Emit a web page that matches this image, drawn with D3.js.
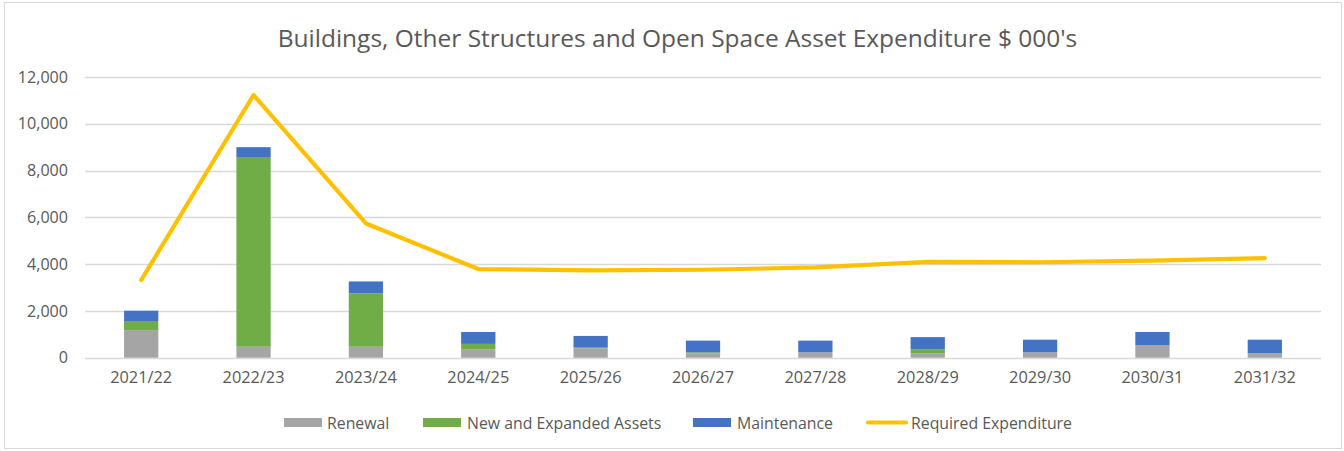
<!DOCTYPE html>
<html>
<head>
<meta charset="utf-8">
<script src="https://cdn.jsdelivr.net/npm/d3@7"></script>
<style>
  html, body { margin: 0; padding: 0; background: #fff; }
  svg { display: block; }
  text { font-family: "Open Sans", sans-serif; fill: #595959; }
</style>
</head>
<body>
<svg id="chart" width="1344" height="451"></svg>
<script>
const categories = ['2021/22','2022/23','2023/24','2024/25','2025/26','2026/27','2027/28','2028/29','2029/30','2030/31','2031/32'];
const renewal     = [1180, 470, 470, 360, 400, 190, 230, 190, 230, 540, 190];
const newExpanded = [360, 8080, 2280, 230, 30, 40, 0, 170, 0, 0, 0];
const maintenance = [470, 450, 510, 510, 500, 500, 500, 520, 540, 560, 580];
const required    = [3320, 11230, 5740, 3790, 3730, 3760, 3860, 4100, 4080, 4150, 4260];
const yTicks = [0, 2000, 4000, 6000, 8000, 10000, 12000];
const seriesNames = ['Renewal', 'New and Expanded Assets', 'Maintenance'];
const lineName = 'Required Expenditure';
const titleText = "Buildings, Other Structures and Open Space Asset Expenditure $ 000's";

const colors = { 'Renewal': '#a5a5a5', 'New and Expanded Assets': '#70ad47', 'Maintenance': '#4472c4', line: '#ffc000' };

const svg = d3.select('#chart');
const W = 1344, H = 451;
const plot = { left: 85, right: 1321, top: 77, bottom: 357.7 };

// helper: size font so the text fits a target width
function fitSize(str, target, weight) {
  const t = svg.append('text').attr('font-size', 100).text(str);
  const w = t.node().getComputedTextLength();
  t.remove();
  return 100 * target / w;
}

// border
svg.append('rect').attr('x', 4.5).attr('y', 2.5).attr('width', 1337).attr('height', 446)
  .attr('fill', '#fff').attr('stroke', '#d9d9d9').attr('stroke-width', 1);

const x = d3.scaleBand().domain(categories).range([plot.left, plot.right]).paddingInner(0.695).paddingOuter(0.3475);
const y = d3.scaleLinear().domain([0, 12000]).range([plot.bottom, plot.top]);

// gridlines
svg.append('g').selectAll('line').data(yTicks).join('line')
  .attr('x1', plot.left).attr('x2', plot.right)
  .attr('y1', d => Math.round(y(d)) + 0.5).attr('y2', d => Math.round(y(d)) + 0.5)
  .attr('stroke', '#d9d9d9').attr('stroke-width', 1.3);

// stacked bars
const rows = categories.map((c, i) => ({ cat: c, 'Renewal': renewal[i], 'New and Expanded Assets': newExpanded[i], 'Maintenance': maintenance[i] }));
const stack = d3.stack().keys(seriesNames)(rows);
svg.append('g').selectAll('g').data(stack).join('g')
  .attr('fill', d => colors[d.key])
  .selectAll('rect').data(d => d).join('rect')
  .attr('x', d => x(d.data.cat))
  .attr('width', x.bandwidth())
  .attr('y', d => y(d[1]))
  .attr('height', d => Math.max(0, y(d[0]) - y(d[1])));

// line
const line = d3.line().x((d, i) => x(categories[i]) + x.bandwidth() / 2).y(d => y(d));
svg.append('path').datum(required).attr('d', line)
  .attr('fill', 'none').attr('stroke', colors.line).attr('stroke-width', 4.2)
  .attr('stroke-linejoin', 'round').attr('stroke-linecap', 'round');

// y axis labels
const yFs = fitSize('8,000', 41);
const yAxis = d3.axisLeft(y).tickValues(yTicks).tickFormat(d3.format(',')).tickSize(0).tickPadding(0);
const gy = svg.append('g').attr('transform', `translate(68,0)`).call(yAxis);
gy.select('.domain').remove();
gy.selectAll('text').attr('font-size', yFs).attr('font-family', '"Open Sans", sans-serif').attr('fill', '#595959');

// x axis labels
const xFs = fitSize('2021/22', 62);
const xAxis = d3.axisBottom(x).tickSize(0).tickPadding(0);
const gx = svg.append('g').attr('transform', `translate(0,${plot.bottom})`).call(xAxis);
gx.select('.domain').remove();
gx.selectAll('text').attr('font-size', xFs).attr('font-family', '"Open Sans", sans-serif').attr('fill', '#595959')
  .attr('dy', null).attr('y', 25.5);

// title
const tFs = fitSize(titleText, 800);
svg.append('text').attr('x', 677.5).attr('y', 47).attr('text-anchor', 'middle')
  .attr('font-size', tFs).text(titleText);

// legend
const lFs = fitSize('Maintenance', 96);
const legendItems = [
  { name: 'Renewal', type: 'rect', sx: 284, tx: 327 },
  { name: 'New and Expanded Assets', type: 'rect', sx: 423, tx: 467 },
  { name: 'Maintenance', type: 'rect', sx: 693, tx: 737 },
  { name: lineName, type: 'line', sx: 866, tx: 911 }
];
const lg = svg.append('g');
legendItems.forEach(it => {
  if (it.type === 'rect') {
    lg.append('rect').attr('x', it.sx).attr('y', 418).attr('width', 38).attr('height', 9).attr('fill', colors[it.name]);
  } else {
    lg.append('line').attr('x1', it.sx + 2).attr('x2', it.sx + 40).attr('y1', 422.5).attr('y2', 422.5)
      .attr('stroke', colors.line).attr('stroke-width', 4.2).attr('stroke-linecap', 'round');
  }
  lg.append('text').attr('x', it.tx).attr('y', 422.5).attr('dominant-baseline', 'central')
    .attr('font-size', lFs).text(it.name);
});
</script>
</body>
</html>
